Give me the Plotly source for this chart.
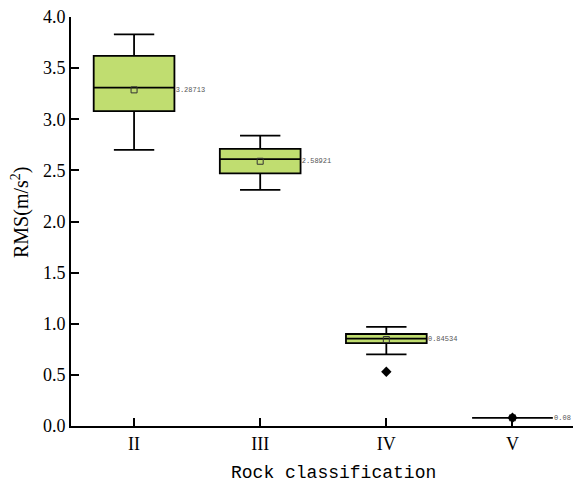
import plotly.graph_objects as go

categories = ["II", "III", "IV", "V"]
positions = [1, 2, 3, 4]
q1 = [3.08, 2.47, 0.81, 0.08]
median = [3.31, 2.61, 0.855, 0.08]
q3 = [3.62, 2.71, 0.90, 0.08]
lower = [2.70, 2.31, 0.70, 0.08]
upper = [3.83, 2.84, 0.97, 0.08]
means = [3.28713, 2.58921, 0.84534, 0.08]
mean_labels = ["3.28713", "2.58921", "0.84534", "0.08"]
outlier_x = [3, 4]
outlier_y = [0.53, 0.08]

BOX_W = 0.64

fig = go.Figure()
fig.add_trace(go.Box(
    x=positions, q1=q1, median=median, q3=q3,
    lowerfence=lower, upperfence=upper,
    width=BOX_W, whiskerwidth=0.5,
    fillcolor="#c0dd70", line=dict(color="black", width=1.8),
    boxpoints=False, showlegend=False, hoverinfo="skip",
))
fig.add_trace(go.Scatter(
    x=positions, y=means, mode="markers",
    marker=dict(symbol="square-open", size=6, color="#333", line=dict(width=1)),
    showlegend=False,
))
fig.add_trace(go.Scatter(
    x=outlier_x, y=outlier_y, mode="markers",
    marker=dict(symbol="diamond", size=8, color="black"),
    showlegend=False,
))
fig.add_trace(go.Scatter(
    x=[p + BOX_W / 2 + 0.01 for p in positions], y=means, mode="text",
    text=mean_labels, textposition="middle right",
    textfont=dict(size=7, color="#555", family="Liberation Mono"),
    showlegend=False, cliponaxis=False,
))

fig.update_layout(
    width=573, height=483,
    margin=dict(l=71, r=0, t=17, b=57),
    paper_bgcolor="white", plot_bgcolor="white",
    font=dict(family="Liberation Serif", color="black"),
    annotations=[
        dict(text="Rock classification", xref="paper", yref="paper",
             x=(333 - 71) / 502, y=-(473 - 426) / 409, xanchor="center", yanchor="middle",
             showarrow=False, font=dict(size=18, family="Liberation Mono", color="black")),
        dict(text="RMS(m/s<sup>2</sup>)", xref="paper", yref="paper",
             x=-(71 - 20) / 502, y=(426 - 213) / 409, xanchor="center", yanchor="middle",
             textangle=-90, showarrow=False,
             font=dict(size=20, family="Liberation Serif", color="black")),
    ],
)
fig.update_xaxes(
    range=[0.5, 4.48], tickvals=positions, ticktext=categories,
    ticks="inside", ticklen=8, tickwidth=1.5, tickcolor="black",
    showline=True, linecolor="black", linewidth=2, showgrid=False, zeroline=False,
    tickfont=dict(size=18, family="Liberation Serif"),
)
fig.update_yaxes(
    range=[0, 4.0], tickvals=[0, 0.5, 1, 1.5, 2, 2.5, 3, 3.5, 4],
    ticktext=["0.0", "0.5", "1.0", "1.5", "2.0", "2.5", "3.0", "3.5", "4.0"],
    ticks="inside", ticklen=8, tickwidth=1.5, tickcolor="black",
    showline=True, linecolor="black", linewidth=2, showgrid=False, zeroline=False,
    tickfont=dict(size=18, family="Liberation Serif"),
)

fig.write_html("out.html")
